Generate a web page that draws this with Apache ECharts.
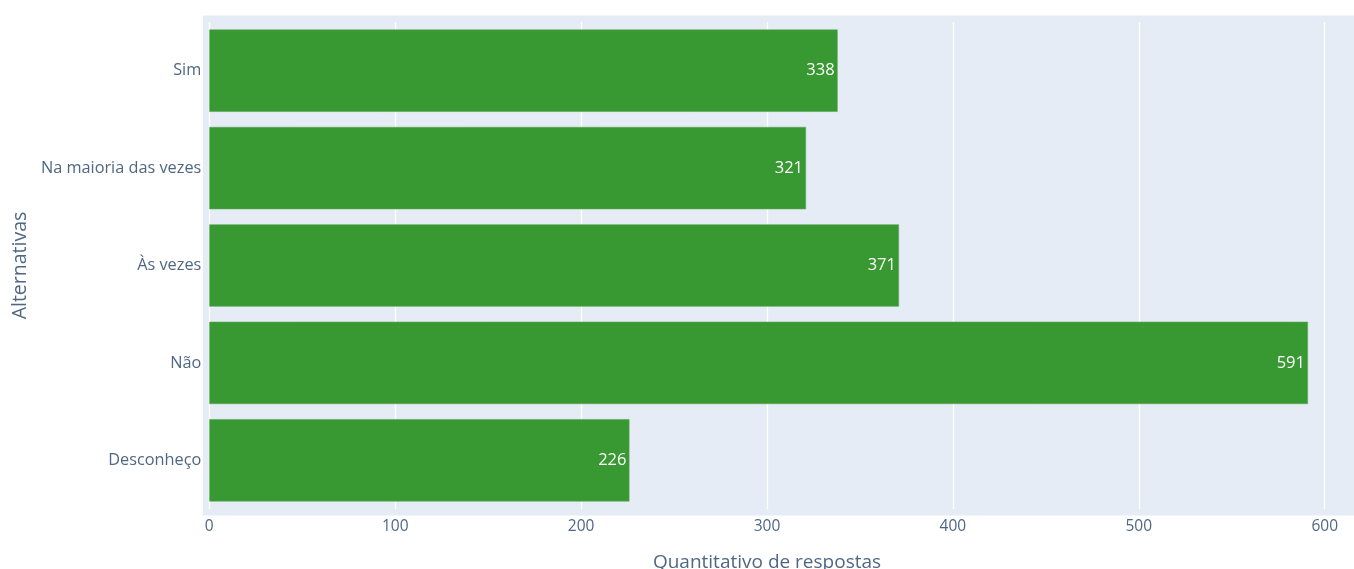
<!DOCTYPE html>
<html>
<head>
<meta charset="utf-8">
<script src="https://cdn.jsdelivr.net/npm/echarts@6/dist/echarts.min.js"></script>
<style>html,body{margin:0;padding:0;background:#fff}#chart{width:1354px;height:569px}</style>
</head>
<body>
<div id="chart"></div>
<script>
const categories = ["Sim", "Na maioria das vezes", "Às vezes", "Não", "Desconheço"];
const values = [338, 321, 371, 591, 226];
const xTicks = [0, 100, 200, 300, 400, 500, 600];

const font = "'Open Sans', 'Noto Sans', sans-serif";
const chart = echarts.init(document.getElementById('chart'));
chart.setOption({
  animation: false,
  graphic: [{
    type: 'rect', z: -10, silent: true,
    shape: { x: 203, y: 15.5, width: 1151, height: 500 },
    style: { fill: '#e5ecf6' }
  }],
  grid: { left: 209.3, right: 29.3, top: 22, bottom: 60, containLabel: false, outerBoundsMode: 'none' },
  xAxis: {
    type: 'value', min: xTicks[0], max: xTicks[xTicks.length - 1], interval: 100,
    name: 'Quantitativo de respostas', nameLocation: 'middle', nameGap: 44,
    nameTextStyle: { color: '#506784', fontSize: 19, fontFamily: font },
    axisLine: { show: false }, axisTick: { show: false },
    axisLabel: { color: '#506784', fontSize: 15.5, fontFamily: font, margin: 10 },
    splitLine: { show: true, lineStyle: { color: '#ffffff', width: 1.3 } }
  },
  yAxis: {
    type: 'category', data: categories, inverse: true,
    name: 'Alternativas', nameLocation: 'middle', nameGap: 178, nameRotate: 90,
    nameTextStyle: { color: '#506784', fontSize: 19.5, fontFamily: font },
    axisLine: { show: false }, axisTick: { show: false },
    axisLabel: { color: '#506784', fontSize: 16.3, fontFamily: font, margin: 8 },
    splitLine: { show: false }
  },
  series: [{
    type: 'bar', data: values, barCategoryGap: '15.5%',
    itemStyle: { color: '#389832', borderColor: '#5aa854', borderWidth: 0.6 },
    label: {
      show: true, position: 'insideRight', distance: 3,
      color: '#ffffff', fontSize: 16.5, fontFamily: font
    }
  }]
});
</script>
</body>
</html>
